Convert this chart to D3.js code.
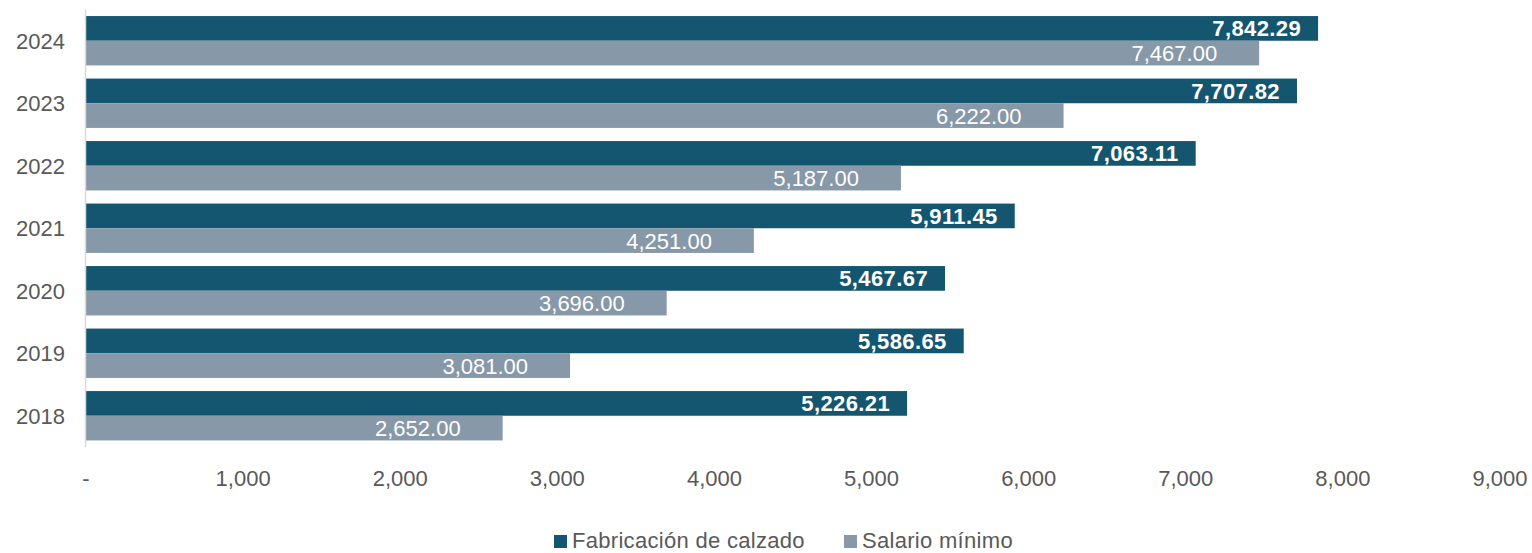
<!DOCTYPE html>
<html>
<head>
<meta charset="utf-8">
<script src="https://cdn.jsdelivr.net/npm/d3@7"></script>
<style>
	body { margin: 0; background: #ffffff; }
	svg { display: block; font-family: 'Liberation Sans', Arial, sans-serif; }
</style>
</head>
<body>
<div id="chart"></div>
<script>
// Data
const years = ['2024', '2023', '2022', '2021', '2020', '2019', '2018'];
const fabricacion = [7842.29, 7707.82, 7063.11, 5911.45, 5467.67, 5586.65, 5226.21];
const salario = [7467.00, 6222.00, 5187.00, 4251.00, 3696.00, 3081.00, 2652.00];
const seriesNames = ['Fabricación de calzado', 'Salario mínimo'];
const xTicks = [0, 1000, 2000, 3000, 4000, 5000, 6000, 7000, 8000, 9000];

const colors = ['#14566f', '#8798a8'];
const width = 1532, height = 553;

const svg = d3.select('#chart').append('svg')
	.attr('width', width)
	.attr('height', height);

const x = d3.scaleLinear().domain([0, 9000]).range([86, 1500]);
const y = d3.scaleBand().domain(years).range([9.5, 447]).paddingInner(0.21).paddingOuter(0.105);
const ySub = d3.scaleBand().domain([0, 1]).range([0, y.bandwidth()]);

const fmt = d3.format(',.2f');
const tickFmt = d => d === 0 ? '-' : d3.format(',')(d);

// Bars
const rows = years.map((yr, i) => ({ year: yr, values: [fabricacion[i], salario[i]] }));

const groups = svg.selectAll('.group')
	.data(rows)
	.enter()
	.append('g')
	.attr('class', 'group')
	.attr('transform', d => 'translate(0,' + y(d.year) + ')');

groups.selectAll('rect')
	.data(d => d.values.map((v, s) => ({ v: v, s: s })))
	.enter()
	.append('rect')
	.attr('x', x(0))
	.attr('y', d => ySub(d.s))
	.attr('width', d => x(d.v) - x(0))
	.attr('height', ySub.bandwidth())
	.style('fill', d => colors[d.s]);

// Value labels (inside end)
groups.selectAll('text')
	.data(d => d.values.map((v, s) => ({ v: v, s: s })))
	.enter()
	.append('text')
	.attr('x', d => x(d.v) - (d.s === 0 ? 17 : 42))
	.attr('y', d => ySub(d.s) + ySub.bandwidth() / 2)
	.attr('dy', '0.36em')
	.attr('text-anchor', 'end')
	.style('font-size', '22px')
	.style('letter-spacing', d => d.s === 0 ? '0.4px' : '0px')
	.style('font-weight', d => d.s === 0 ? 'bold' : 'normal')
	.style('fill', '#ffffff')
	.text(d => fmt(d.v));

// Y axis line
svg.append('line')
	.attr('x1', 85.5).attr('x2', 85.5)
	.attr('y1', 9.5).attr('y2', 447)
	.style('stroke', '#d9d9d9')
	.style('stroke-width', '1.5px');

// Y labels
svg.selectAll('.ylab')
	.data(years)
	.enter()
	.append('text')
	.attr('class', 'ylab')
	.attr('x', 65)
	.attr('y', d => y(d) + y.bandwidth() / 2)
	.attr('dy', '0.36em')
	.attr('text-anchor', 'end')
	.style('font-size', '22px')
	.style('fill', '#595959')
	.text(d => d);

// X tick labels
svg.selectAll('.xlab')
	.data(xTicks)
	.enter()
	.append('text')
	.attr('class', 'xlab')
	.attr('x', d => x(d))
	.attr('y', 478)
	.attr('dy', '0.36em')
	.attr('text-anchor', 'middle')
	.style('font-size', '22px')
	.style('fill', '#595959')
	.text(tickFmt);

// Legend
const legendX = [554, 844];
const legend = svg.selectAll('.legend')
	.data(seriesNames)
	.enter()
	.append('g')
	.attr('class', 'legend')
	.attr('transform', (d, i) => 'translate(' + legendX[i] + ',535)');

legend.append('rect')
	.attr('width', 13)
	.attr('height', 13)
	.style('fill', (d, i) => colors[i]);

legend.append('text')
	.attr('x', 18)
	.attr('y', 12.5)
	.style('font-size', '22px')
	.style('letter-spacing', '0.3px')
	.style('fill', '#595959')
	.text(d => d);
</script>
</body>
</html>
